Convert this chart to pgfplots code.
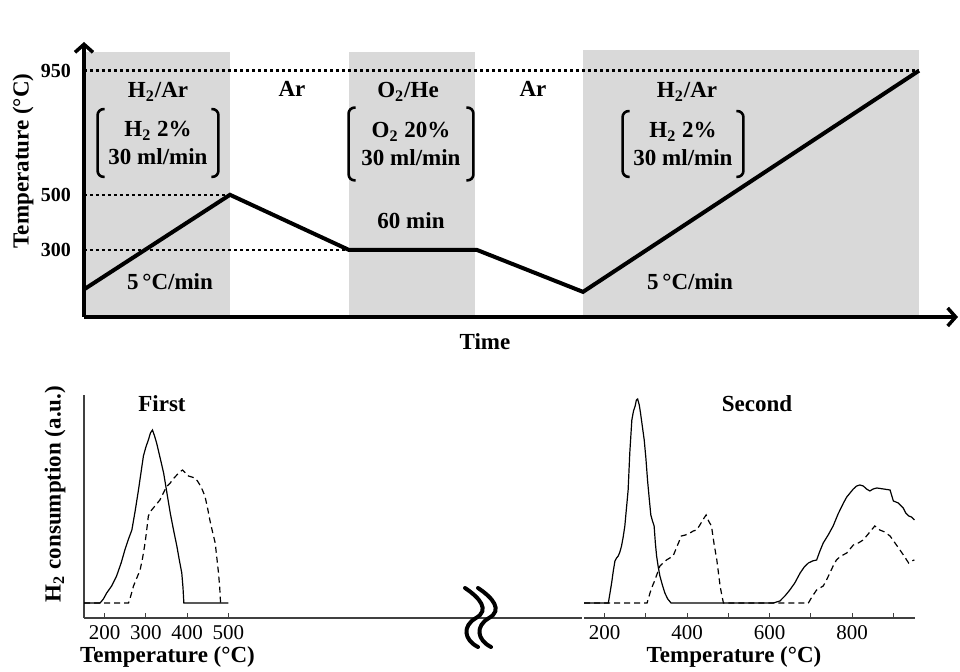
\documentclass[border=0pt]{standalone}
\usepackage{fontspec}
\setmainfont{Liberation Serif}
\usepackage{pgfplots}
\pgfplotsset{compat=1.18}
\usetikzlibrary{arrows.meta}
\definecolor{shade}{RGB}{217,217,217}
\newcommand\lbl{\fontsize{11.5}{14}\selectfont\bfseries}

\begin{document}
\begin{tikzpicture}
\useasboundingbox (0pt,0pt) rectangle (480pt,336pt);

% ---------------- Top: temperature programme ----------------
\begin{axis}[
  at={(42pt,177.5pt)}, anchor=south west,
  width=437pt, height=137.5pt, scale only axis,
  xmin=0, xmax=874, ymin=57, ymax=1054,
  axis x line=bottom, axis y line=left,
  axis line style={line width=1.75pt, black},
  x axis line style={-{Straight Barb[length=4pt,width=9pt]}},
  y axis line style={-{Straight Barb[length=4pt,width=9pt]}},
  xtick=\empty,
  ytick={300,500,950}, yticklabels={300,500,950},
  major tick length=0pt,
  yticklabel style={font=\fontsize{10}{12}\selectfont\bfseries, xshift=-3pt},
  clip=false, axis on top,
]
\addplot[fill=shade, draw=none] coordinates {(1,57)(1,1018)(146,1018)(146,57)} -- cycle;
\addplot[fill=shade, draw=none] coordinates {(265,57)(265,1018)(391,1018)(391,57)} -- cycle;
\addplot[fill=shade, draw=none] coordinates {(499,57)(499,1025)(835,1025)(835,57)} -- cycle;
\addplot[line width=1.2pt, dash pattern=on 1.5pt off 1.5pt] coordinates {(0,950)(835,950)};
\addplot[line width=1.2pt, dash pattern=on 1.5pt off 1.5pt] coordinates {(0,500)(146,500)};
\addplot[line width=1.2pt, dash pattern=on 1.5pt off 1.5pt] coordinates {(0,300)(265,300)};
\addplot[line width=2pt, black] coordinates {(0,157)(146,500)(265,300)(393,300)(499,148)(835,950)};
\end{axis}

% labels of the top panel
\node[rotate=90, font=\lbl] at (11.5pt,255.5pt) {Temperature (\textdegree C)};
\node[anchor=base, font=\lbl] at (242.5pt,161pt) {Time};

\node[anchor=base, font=\lbl] at (79pt,287pt) {H\textsubscript{2}/Ar};
\node[anchor=base, font=\lbl] at (146pt,287.5pt) {Ar};
\node[anchor=base, font=\lbl] at (204pt,287pt) {O\textsubscript{2}/He};
\node[anchor=base, font=\lbl] at (266.5pt,287.5pt) {Ar};
\node[anchor=base, font=\lbl] at (343.5pt,287pt) {H\textsubscript{2}/Ar};

\node[anchor=base, font=\lbl] at (85pt,191pt) {5\,\textdegree C/min};
\node[anchor=base, font=\lbl] at (205.5pt,221.5pt) {60 min};
\node[anchor=base, font=\lbl] at (345pt,191.3pt) {5\,\textdegree C/min};

\node[font=\lbl, align=center, minimum width=60pt, minimum height=33.5pt, inner sep=0pt] (b1) at (79pt,264.5pt) {H\textsubscript{2} 2\%\\30 ml/min};
\node[font=\lbl, align=center, minimum width=62pt, minimum height=36pt, inner sep=0pt] (b2) at (205.5pt,264pt) {O\textsubscript{2} 20\%\\30 ml/min};
\node[font=\lbl, align=center, minimum width=60pt, minimum height=32.5pt, inner sep=0pt] (b3) at (341.5pt,264pt) {H\textsubscript{2} 2\%\\30 ml/min};
\foreach \b in {b1,b2,b3}{
  \draw[line width=1.3pt, rounded corners=3pt] ([xshift=3.5pt]\b.north west) -- (\b.north west) -- (\b.south west) -- ([xshift=3.5pt]\b.south west);
  \draw[line width=1.3pt, rounded corners=3pt] ([xshift=-3.5pt]\b.north east) -- (\b.north east) -- (\b.south east) -- ([xshift=-3.5pt]\b.south east);
}

% ---------------- Bottom left: First ----------------
\begin{axis}[
  at={(42pt,27pt)}, anchor=south west,
  width=249pt, height=111.5pt, scale only axis,
  xmin=150, xmax=1357, ymin=-15, ymax=208,
  axis x line=bottom, axis y line=left,
  axis line style={-, line width=0.7pt, black!75},
  xtick={200,300,400,500}, ytick=\empty,
  xtick align=inside, major tick length=2.5pt,
  tick style={black!75, line width=0.6pt},
  xticklabel style={font=\fontsize{10.5}{12}\selectfont},
  /pgf/number format/assume math mode=true,
  clip=false,
]
\addplot[black, line width=0.6pt] coordinates {
(150,0)(189,0)(197,4)(205,10)(217,17)(229,27)(240,40)(249,53)(257,63)(266,73)(274,92)(282,113)(288,130)(294,147)(300,156)(306,163)(311,170)(316,173)(321,167)(326,160)(334,146)(343,130)(351,110)(359,90)(367,73)(375,57)(381,43)(387,30)(390,15)(392,0)(500,0)};
\addplot[black, line width=0.6pt, dash pattern=on 3pt off 2pt] coordinates {
(150,0)(258,0)(264,8)(270,17)(278,25)(286,33)(292,45)(298,60)(302,73)(306,87)(312,92)(318,95)(326,99)(334,103)(340,108)(346,113)(352,117)(359,120)(366,124)(375,128)(382,131)(389,133)(396,130)(403,127)(411,126)(419,125)(425,122)(431,118)(437,113)(443,107)(449,96)(455,83)(461,72)(468,60)(472,45)(476,30)(479,15)(481,0)};
\end{axis}

% ---------------- Bottom right: Second ----------------
\begin{axis}[
  at={(292pt,27pt)}, anchor=south west,
  width=165.4pt, height=111.5pt, scale only axis,
  xmin=150, xmax=952, ymin=-15, ymax=208,
  axis x line=bottom, axis y line=none,
  axis line style={-, line width=0.7pt, black!75},
  xtick={200,400,600,800}, minor xtick={300,500,700,900}, ytick=\empty,
  xtick align=inside, major tick length=2.5pt, minor tick length=2.5pt,
  tick style={black!75, line width=0.6pt},
  xticklabel style={font=\fontsize{10.5}{12}\selectfont},
  /pgf/number format/assume math mode=true,
  clip=false,
]
\addplot[black, line width=0.6pt] coordinates {
(150,0)(209,0)(213,10)(217,20)(221,32)(225,42)(229,45)(233,47)(237,51)(241,57)(245,66)(249,77)(253,95)(257,113)(261,150)(266,183)(270,192)(274,197)(277,203)(280,204)(284,198)(287,190)(291,178)(296,163)(300,145)(304,123)(308,105)(312,88)(316,82)(320,77)(323,60)(326,47)(330,36)(334,27)(340,18)(346,10)(353,4)(361,0)(609,0)(617,1)(625,2)(637,7)(649,13)(661,20)(674,30)(684,36)(694,40)(704,42)(714,43)(722,52)(730,60)(742,68)(754,77)(766,89)(779,100)(787,106)(795,110)(803,114)(811,117)(819,118)(827,117)(835,114)(843,112)(851,114)(860,115)(876,114)(892,113)(900,102)(912,100)(924,95)(930,90)(937,87)(944,86)(951,83)};
\addplot[black, line width=0.6pt, dash pattern=on 3pt off 2pt] coordinates {
(150,0)(303,0)(310,10)(316,17)(322,23)(328,30)(334,37)(342,40)(350,43)(358,45)(366,47)(376,57)(386,67)(396,68)(407,70)(415,72)(423,73)(431,78)(438,83)(446,88)(452,82)(459,77)(465,60)(472,43)(476,30)(480,17)(484,8)(488,0)(694,0)(704,7)(714,13)(722,15)(730,17)(738,23)(746,30)(754,37)(762,43)(770,46)(778,48)(787,50)(795,54)(803,58)(815,60)(827,63)(841,70)(855,77)(861,75)(867,73)(879,71)(892,67)(904,60)(916,53)(926,47)(937,40)(944,42)(951,43)};
\end{axis}

% labels of the bottom panels
\node[rotate=90, font=\lbl] at (27.5pt,89pt) {H\textsubscript{2} consumption (a.u.)};
\node[anchor=base, font=\lbl] at (81pt,130pt) {First};
\node[anchor=base, font=\lbl] at (378.5pt,130pt) {Second};
\node[anchor=base, font=\lbl] at (83.75pt,4.5pt) {Temperature (\textdegree C)};
\node[anchor=base, font=\lbl] at (367pt,4.5pt) {Temperature (\textdegree C)};

% axis-break mark
\foreach \s in {0pt,6.5pt}{
  \draw[line width=2pt, line cap=round, xshift=\s]
    (232.5pt,42pt) .. controls (240pt,37pt) and (245pt,31pt) .. (238pt,27pt)
    .. controls (231pt,23pt) and (232pt,16pt) .. (239pt,12.5pt);
}
\end{tikzpicture}
\end{document}
